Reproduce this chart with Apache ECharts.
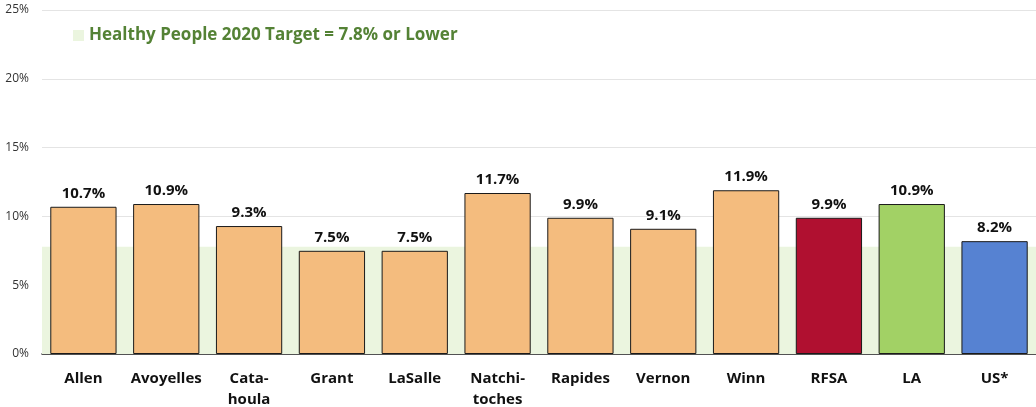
<!DOCTYPE html>
<html>
<head>
<meta charset="utf-8">
<script src="https://cdn.jsdelivr.net/npm/echarts@6/dist/echarts.min.js"></script>
<style>
  html, body { margin: 0; padding: 0; background: #ffffff; }
  #chart { width: 1036px; height: 407px; }
</style>
</head>
<body>
<div id="chart"></div>
<script>
// Parish / region names and their rates (%)
const categories = ['Allen', 'Avoyelles', 'Cata-\nhoula', 'Grant', 'LaSalle', 'Natchi-\ntoches', 'Rapides', 'Vernon', 'Winn', 'RFSA', 'LA', 'US*'];
const rates = [10.7, 10.9, 9.3, 7.5, 7.5, 11.7, 9.9, 9.1, 11.9, 9.9, 10.9, 8.2];
const barColors = ['#f4bc7e', '#f4bc7e', '#f4bc7e', '#f4bc7e', '#f4bc7e', '#f4bc7e', '#f4bc7e', '#f4bc7e', '#f4bc7e', '#b01030', '#a2d165', '#5682d2'];
const targetName = 'Healthy People 2020 Target = 7.8% or Lower';
const targetValue = 7.8;
const yTicks = [0, 5, 10, 15, 20, 25];

const chart = echarts.init(document.getElementById('chart'), null, { renderer: 'canvas' });

chart.setOption({
  animation: false,
  backgroundColor: '#ffffff',
  textStyle: { fontFamily: '"Open Sans", "Noto Sans", sans-serif' },
  grid: { left: 42, right: 0, top: 10, bottom: 53, containLabel: false, outerBoundsMode: 'none' },
  legend: {
    left: 68,
    top: 22,
    itemWidth: 11,
    itemHeight: 11,
    itemGap: 5,
    data: [{ name: targetName, icon: 'rect' }],
    textStyle: { color: '#548235', fontWeight: 'bold', fontSize: 17, fontFamily: '"Open Sans", sans-serif' },
    selectedMode: false
  },
  xAxis: {
    type: 'category',
    data: categories,
    axisLine: { show: true, lineStyle: { color: '#222222', width: 1.5 } },
    axisTick: { show: false },
    axisLabel: {
      color: '#111111',
      fontWeight: 'bold',
      fontSize: 15,
      lineHeight: 21,
      margin: 14,
      interval: 0
    }
  },
  yAxis: {
    type: 'value',
    min: yTicks[0],
    max: yTicks[yTicks.length - 1],
    interval: 5,
    axisLine: { show: false },
    axisTick: { show: false },
    splitLine: { lineStyle: { color: '#e4e4e4', width: 1 } },
    axisLabel: {
      color: '#333333',
      fontSize: 12,
      margin: 13,
      formatter: v => v + '%'
    }
  },
  series: [
    {
      name: targetName,
      type: 'line',
      data: [],
      z: 1,
      itemStyle: { color: '#ebf5df' },
      lineStyle: { color: '#ebf5df' },
      markArea: {
        silent: true,
        itemStyle: { color: '#ebf5df' },
        data: [[{ yAxis: 0 }, { yAxis: targetValue }]]
      }
    },
    {
      name: 'Rate',
      type: 'bar',
      z: 3,
      barWidth: '80%',
      data: rates.map((v, i) => ({ value: v, itemStyle: { color: barColors[i] } })),
      itemStyle: { borderColor: '#1a1a1a', borderWidth: 1 },
      label: {
        show: true,
        position: 'top',
        distance: 6,
        color: '#111111',
        fontWeight: 'bold',
        fontSize: 15,
        formatter: p => p.value.toFixed(1) + '%'
      }
    }
  ]
});
</script>
</body>
</html>
